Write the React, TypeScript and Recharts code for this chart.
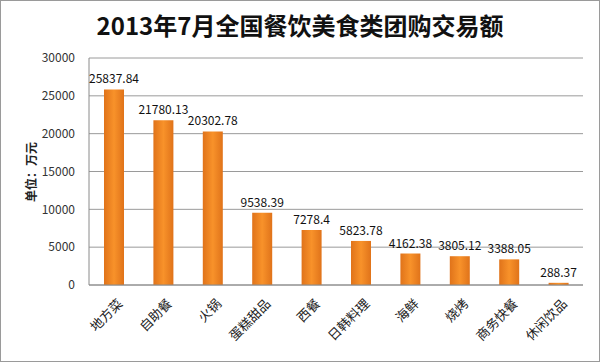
import React from 'react'
import { BarChart, Bar, XAxis, YAxis, CartesianGrid, LabelList } from 'recharts'

const categories = ['地方菜', '自助餐', '火锅', '蛋糕甜品', '西餐', '日韩料理', '海鲜', '烧烤', '商务快餐', '休闲饮品']
const amounts = [25837.84, 21780.13, 20302.78, 9538.39, 7278.4, 5823.78, 4162.38, 3805.12, 3388.05, 288.37]
const yTicks = [0, 5000, 10000, 15000, 20000, 25000, 30000]

const data = categories.map((name, i) => ({ name, value: amounts[i] }))

const FONT = '"Noto Sans CJK SC", "Noto Sans", sans-serif'

function XTick(props: any) {
  const { x, y, payload } = props
  return (
    <g transform={`translate(${x + 4},${y + 6})`}>
      <text textAnchor="end" transform="rotate(-45)" dy={8} fontSize={13} fill="#222" fontFamily={FONT}>
        {payload.value}
      </text>
    </g>
  )
}

export default function App() {
  return (
    <div
      style={{
        position: 'absolute',
        top: 0,
        left: 0,
        width: 600,
        height: 362,
        background: '#fff',
        fontFamily: FONT,
      }}
    >
      <div
        style={{
          position: 'absolute',
          inset: 0,
          border: '1px solid #9a9a9a',
          boxSizing: 'border-box',
          pointerEvents: 'none',
        }}
      />
      <div
        style={{
          position: 'absolute',
          top: 8,
          left: 0,
          width: 600,
          textAlign: 'center',
          fontSize: 24,
          fontWeight: 700,
          color: '#111',
          lineHeight: '34px',
        }}
      >
        2013年7月全国餐饮美食类团购交易额
      </div>
      <div
        style={{
          position: 'absolute',
          left: 30,
          top: 172,
          transform: 'translate(-50%, -50%) rotate(-90deg)',
          fontSize: 12,
          fontWeight: 700,
          color: '#222',
          whiteSpace: 'nowrap',
        }}
      >
        单位：万元
      </div>
      <BarChart
        width={600}
        height={362}
        data={data}
        margin={{ top: 58, right: 17, left: 0, bottom: 0 }}
        barSize={20}
        style={{ position: 'absolute', top: 0, left: 0 }}
      >
        <defs>
          <linearGradient id="barFill" x1="0" y1="0" x2="1" y2="0">
            <stop offset="0%" stopColor="#e0731a" />
            <stop offset="50%" stopColor="#f8922a" />
            <stop offset="100%" stopColor="#e0731a" />
          </linearGradient>
        </defs>
        <CartesianGrid vertical={false} stroke="#9a9a9a" />
        <XAxis
          dataKey="name"
          height={77}
          interval={0}
          tickLine={false}
          axisLine={{ stroke: '#8a8a8a' }}
          tick={<XTick />}
        />
        <YAxis
          width={89}
          domain={[0, 30000]}
          ticks={yTicks}
          tickLine={false}
          axisLine={{ stroke: '#8a8a8a' }}
          tickMargin={8}
          tick={{ fill: '#333', fontSize: 12, fontFamily: FONT }}
        />
        <Bar dataKey="value" fill="url(#barFill)" isAnimationActive={false}>
          <LabelList dataKey="value" position="top" offset={6} fill="#111" fontSize={12} fontFamily={FONT} />
        </Bar>
      </BarChart>
    </div>
  )
}
